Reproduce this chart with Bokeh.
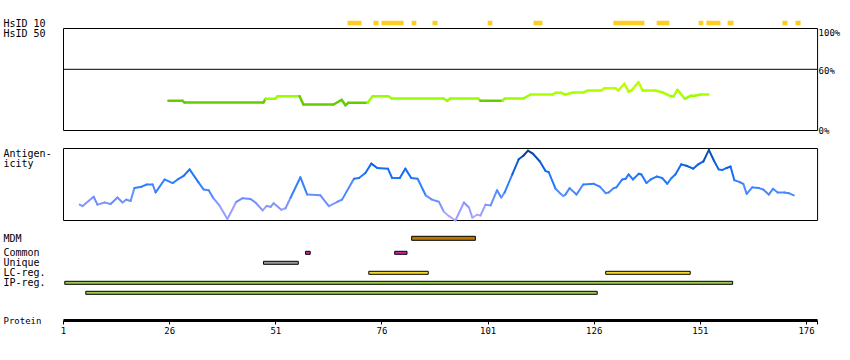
from bokeh.plotting import figure
from bokeh.models import Range1d, LinearAxis, FixedTicker, ColumnDataSource, LinearColorMapper
from bokeh.transform import transform
from bokeh.core.properties import value
from bokeh.embed import file_html
from bokeh.resources import INLINE

# ---------------- data (residue positions / values) ----------------
tick_residues = [1, 26, 51, 76, 101, 126, 151, 176]
protein_end = 178.6

hsid10_start = [67.9, 74.0, 75.9, 83.0, 87.9, 100.9, 111.7, 130.5, 140.7, 150.6, 152.4, 157.4, 170.3, 173.4]
hsid10_end = [71.2, 75.2, 81.1, 84.1, 89.1, 102.0, 113.8, 137.8, 143.7, 151.7, 155.7, 158.8, 171.5, 174.6]

ident_res = [25.7, 29.0, 29.5, 48.1, 48.6, 50.9, 51.4, 56.6, 57.5, 64.6,
             66.5, 67.4, 68.1, 72.6, 73.8, 77.5, 78.3, 90.5, 91.4, 92.1,
             98.7, 99.2, 104.4, 104.9, 109.3, 111.0, 116.2, 116.9, 118.1, 119.2,
             121.1, 123.5, 124.4, 127.7, 128.4, 131.0, 131.7, 133.1, 134.1, 134.8,
             136.4, 137.4, 140.4, 142.3, 144.0, 144.7, 145.6, 147.3, 148.7, 149.8,
             151.0, 152.9]
ident_pct = [29.1, 29.1, 27.5, 27.5, 31.1, 31.1, 33.6, 33.6, 25.5, 25.5,
             30.1, 24.8, 27.2, 27.2, 33.6, 33.6, 31.4, 31.4, 29.1, 31.4,
             31.4, 29.1, 29.1, 31.4, 31.4, 35.3, 35.3, 37.0, 37.0, 35.3,
             37.3, 37.3, 39.2, 39.2, 41.5, 41.5, 39.2, 45.8, 38.2, 39.2,
             47.4, 39.2, 39.2, 37.0, 33.6, 33.6, 39.9, 31.1, 34.0, 34.0,
             35.3, 35.3]
ident_ticks = [0, 60, 100]

antig_res = [4.8, 5.5, 8.1, 9.0, 10.7, 12.1, 13.7, 14.9, 15.8, 16.8,
             17.7, 19.4, 20.6, 22.0, 22.7, 24.8, 26.7, 27.9, 29.3, 30.7,
             32.8, 34.0, 35.2, 36.3, 37.7, 39.6, 41.7, 43.2, 45.0, 46.2,
             47.9, 48.8, 49.8, 50.5, 52.3, 53.3, 54.5, 56.8, 58.4, 61.5,
             63.5, 65.5, 66.6, 69.4, 70.6, 72.1, 73.5, 74.9, 77.4, 78.4,
             80.2, 81.5, 82.9, 84.4, 86.3, 87.8, 89.4, 90.6, 91.8, 93.3,
             95.3, 96.5, 97.3, 98.4, 99.2, 100.4, 101.6, 103.1, 104.1, 104.9,
             106.7, 108.2, 109.3, 110.4, 111.5, 113.2, 114.5, 115.3, 116.9, 118.1,
             118.7, 119.2, 120.2, 121.8, 123.4, 125.9, 127.3, 128.7, 129.4, 130.6,
             131.2, 132.6, 133.4, 134.1, 135.1, 136.5, 137.1, 138.3, 139.3, 140.7,
             142.0, 143.2, 144.2, 145.1, 146.5, 147.7, 149.3, 150.5, 151.7, 153.0,
             154.2, 155.3, 156.1, 157.2, 158.1, 159.0, 160.4, 161.1, 161.9, 163.2,
             164.8, 165.8, 167.1, 168.1, 169.2, 170.8, 171.8, 173.0]
antig_val = [0.22, 0.20, 0.33, 0.22, 0.25, 0.23, 0.32, 0.25, 0.29, 0.27,
             0.45, 0.47, 0.50, 0.50, 0.39, 0.57, 0.52, 0.57, 0.62, 0.71,
             0.53, 0.43, 0.42, 0.31, 0.21, 0.02, 0.26, 0.31, 0.30, 0.25,
             0.14, 0.20, 0.19, 0.24, 0.15, 0.17, 0.32, 0.60, 0.36, 0.35,
             0.20, 0.26, 0.29, 0.58, 0.59, 0.66, 0.79, 0.73, 0.72, 0.59,
             0.59, 0.72, 0.59, 0.58, 0.35, 0.29, 0.26, 0.12, 0.06, 0.00,
             0.25, 0.18, 0.04, 0.08, 0.07, 0.22, 0.21, 0.42, 0.32, 0.39,
             0.64, 0.85, 0.90, 0.97, 0.93, 0.82, 0.69, 0.67, 0.44, 0.37,
             0.34, 0.36, 0.45, 0.36, 0.50, 0.51, 0.47, 0.38, 0.39, 0.45,
             0.46, 0.57, 0.58, 0.64, 0.57, 0.65, 0.64, 0.52, 0.57, 0.61,
             0.59, 0.51, 0.59, 0.64, 0.78, 0.76, 0.72, 0.78, 0.82, 0.98,
             0.83, 0.71, 0.70, 0.73, 0.75, 0.56, 0.53, 0.51, 0.37, 0.46,
             0.45, 0.43, 0.36, 0.44, 0.39, 0.39, 0.38, 0.35]

mdm_start, mdm_end = [83.0], [98.0]
common_start, common_end = [58.0, 79.0], [59.1, 81.9]
unique_start, unique_end = [48.1], [56.3]
lcreg_start, lcreg_end = [72.9, 128.7], [86.9, 148.6]
ipreg1_start, ipreg1_end = [1.3], [158.6]
ipreg2_start, ipreg2_end = [6.25], [126.7]

# ---------------- layout (reference-pixel geometry) ----------------
W, H = 842, 344
PX = 4.246              # pixels per residue
X0_REF = 63             # x of residue 1
AXIS_Y = 320            # y of the protein axis line

x_start = 1 - X0_REF / PX
x_end = x_start + W / PX


def y_range_for(v0, y0, v1, y1):
    slope = (y0 - y1) / (v1 - v0)
    start = v0 - (H - y0) / slope
    return Range1d(start, start + H / slope)


p = figure(width=W, height=H, x_range=Range1d(x_start, x_end),
           y_range=Range1d(H, 0),
           x_axis_type=None, y_axis_type=None,
           toolbar_location=None, output_backend="svg",
           min_border_left=0, min_border_right=0, min_border_top=0, min_border_bottom=0,
           outline_line_color=None, background_fill_color="white", border_fill_color="white")

p.extra_y_ranges = {
    "ident": y_range_for(0, 130, 100, 28),
    "antig": y_range_for(0, 220, 1, 148),
}

MONO = value("DejaVu Sans Mono")

# ---------------- HsID 10 bars ----------------
p.quad(left=hsid10_start, right=hsid10_end, top=20.3, bottom=24.7,
       fill_color="#FFCC22", line_color=None)

# ---------------- identity panel ----------------
p.quad(left=[1], right=[protein_end], bottom=[0], top=[100], y_range_name="ident",
       fill_color=None, line_color="black", line_width=1)
p.segment(x0=[1], x1=[protein_end], y0=[60], y1=[60], y_range_name="ident",
          line_color="black", line_width=1)

ident_src = ColumnDataSource(dict(
    x0=ident_res[:-1], x1=ident_res[1:], y0=ident_pct[:-1], y1=ident_pct[1:],
    c=[(a + b) / 2 for a, b in zip(ident_pct[:-1], ident_pct[1:])]))
ident_map = LinearColorMapper(palette=["#55BB00", "#66CC00", "#99FF00", "#AAFF00", "#BBFF00", "#CCFF00"],
                              low=20, high=50)
p.segment(x0="x0", y0="y0", x1="x1", y1="y1", source=ident_src, y_range_name="ident",
          line_color=transform("c", ident_map), line_width=2.5, line_cap="round")

pct_offsets = {0: 0, 60: 2, 100: 4}
for t in ident_ticks:
    p.text(x=[protein_end], y=[t], text=[f"{t}%"], y_range_name="ident",
           x_offset=1, y_offset=pct_offsets[t],
           text_font=MONO, text_font_size="9px", text_baseline="middle", text_color="black")

# ---------------- antigenicity panel ----------------
p.quad(left=[1], right=[protein_end], bottom=[0], top=[1], y_range_name="antig",
       fill_color=None, line_color="black", line_width=1)
antig_src = ColumnDataSource(dict(
    x0=antig_res[:-1], x1=antig_res[1:], y0=antig_val[:-1], y1=antig_val[1:],
    c=[(a + b) / 2 for a, b in zip(antig_val[:-1], antig_val[1:])]))
antig_map = LinearColorMapper(palette=["#B0A8FF", "#9A9EFF", "#8094FF", "#6690FF", "#4A88FF", "#3380FF",
                                       "#2277FF", "#146EF5", "#0C60DD", "#0A50B8", "#064090"],
                              low=0, high=1)
p.segment(x0="x0", y0="y0", x1="x1", y1="y1", source=antig_src, y_range_name="antig",
          line_color=transform("c", antig_map), line_width=2, line_cap="round")

# ---------------- feature tracks ----------------
tracks = [
    (mdm_start, mdm_end, 237.8, 2.0, "#BB7700"),
    (common_start, common_end, 252.3, 1.5, "#CC22AA"),
    (unique_start, unique_end, 262.3, 1.5, "#999999"),
    (lcreg_start, lcreg_end, 272.3, 1.5, "#F5DC2A"),
    (ipreg1_start, ipreg1_end, 282.3, 1.5, "#9CC850"),
    (ipreg2_start, ipreg2_end, 292.3, 1.5, "#9CC850"),
]
for s, e, yc, hh, col in tracks:
    p.quad(left=s, right=e, top=yc - hh, bottom=yc + hh,
           fill_color=col, line_color="black", line_width=1)

# ---------------- left labels ----------------
left_labels = ["HsID 10", "HsID 50", "Antigen-", "icity", "MDM", "Common", "Unique", "LC-reg.", "IP-reg."]
left_label_y = [22.5, 33.0, 153.0, 163.0, 237.8, 252.3, 262.3, 272.3, 282.3]
p.text(x=[x_start] * len(left_labels), y=left_label_y, text=left_labels, x_offset=3,
       text_font=MONO, text_font_size="10px", text_baseline="middle", text_color="black")
p.text(x=[x_start], y=[AXIS_Y], text=["Protein"], x_offset=3,
       text_font=MONO, text_font_size="9px", text_baseline="middle", text_color="black")

# ---------------- protein axis ----------------
ax = LinearAxis(ticker=FixedTicker(ticks=tick_residues, minor_ticks=[protein_end]),
                fixed_location=AXIS_Y,
                bounds=(1, protein_end + 0.01),
                axis_line_width=3, axis_line_color="black",
                major_tick_in=0, major_tick_out=4, major_tick_line_color="black",
                minor_tick_in=0, minor_tick_out=4, minor_tick_line_color="black",
                major_label_text_font="DejaVu Sans Mono", major_label_text_font_size="9px",
                major_label_text_color="black", major_label_standoff=2)
p.add_layout(ax, "below")

open("out.html", "w").write(file_html(p, INLINE))
